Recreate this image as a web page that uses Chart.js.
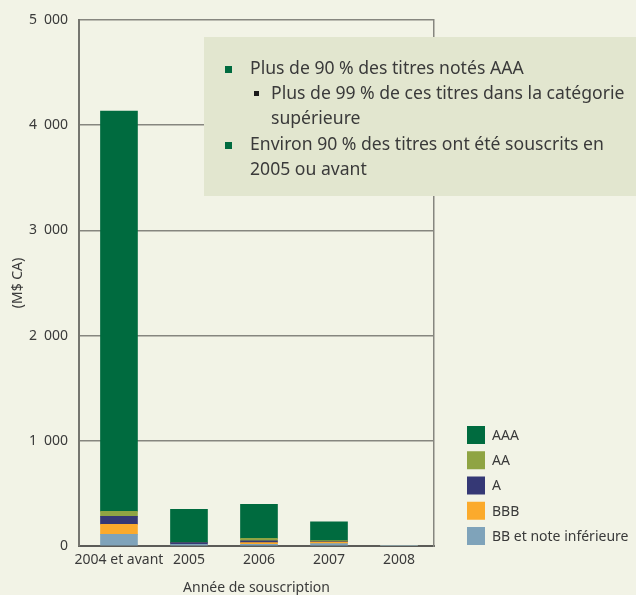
<!DOCTYPE html>
<html>
<head>
<meta charset="utf-8">
<script src="https://cdn.jsdelivr.net/npm/chart.js@4"></script>
<style>
  body { margin: 0; background: #f2f3e6; }
</style>
</head>
<body>
<canvas id="chart" width="636" height="595"></canvas>
<script>
// Années de souscription
const categories = ['2004 et avant', '2005', '2006', '2007', '2008'];

// Valeurs (M$ CA) par notation
const bbLow = [110, 16, 16, 22, 5];
const bbb = [95, 0, 16, 16, 0];
const ratingA = [76, 16, 16, 3, 0];
const ratingAA = [48, 0, 25, 10, 0];
const ratingAAA = [3806, 317, 323, 178, 0];

const yTicks = [0, 1000, 2000, 3000, 4000, 5000];

const noteLines = [
  { text: 'Plus de 90 % des titres notés AAA', bullet: 'main' },
  { text: 'Plus de 99 % de ces titres dans la catégorie', bullet: 'sub' },
  { text: 'supérieure', bullet: 'subCont' },
  { text: 'Environ 90 % des titres ont été souscrits en', bullet: 'main' },
  { text: '2005 ou avant', bullet: 'mainCont' }
];

const textColor = '#3a3a3a';
Chart.defaults.font.family = '"Noto Sans", sans-serif';
Chart.defaults.color = textColor;

function toPoints(values) {
  return values.map((v, i) => ({ x: i, y: v }));
}

function formatThousands(v) {
  // espace large entre les milliers, comme dans l'original
  return String(v).replace(/\B(?=(\d{3})+(?!\d))/g, '\u2002');
}

const datasets = [
  { label: 'BB et note inférieure', data: toPoints(bbLow), backgroundColor: '#7fa3ba' },
  { label: 'BBB', data: toPoints(bbb), backgroundColor: '#fbaa2c' },
  { label: 'A', data: toPoints(ratingA), backgroundColor: '#353875' },
  { label: 'AA', data: toPoints(ratingAA), backgroundColor: '#8fa443' },
  { label: 'AAA', data: toPoints(ratingAAA), backgroundColor: '#006b3f' }
];
datasets.forEach(ds => {
  ds.barThickness = 37;
  ds.borderWidth = 0;
  ds.yAxisID = 'y';
});

// fond, encadré de texte et légende
const decorPlugin = {
  id: 'decor',
  beforeDraw(chart) {
    const ctx = chart.ctx;
    ctx.save();
    ctx.fillStyle = '#f2f3e6';
    ctx.fillRect(0, 0, chart.width, chart.height);
    ctx.restore();
  },
  afterDraw(chart) {
    const ctx = chart.ctx;
    ctx.save();

    // encadré
    ctx.fillStyle = '#e2e6cf';
    ctx.fillRect(204, 37, 432, 159);

    const baselines = [74, 99, 124, 150, 175];
    ctx.font = '17.6px "Noto Sans", sans-serif';
    ctx.textBaseline = 'alphabetic';
    ctx.textAlign = 'left';
    noteLines.forEach((line, i) => {
      const y = baselines[i];
      let x = 250;
      if (line.bullet === 'main') {
        ctx.fillStyle = '#006b3f';
        ctx.fillRect(225, y - 8, 7, 7);
      } else if (line.bullet === 'sub') {
        ctx.fillStyle = '#1a1a1a';
        ctx.fillRect(254, y - 8, 5, 5);
        x = 271;
      } else if (line.bullet === 'subCont') {
        x = 271;
      }
      ctx.fillStyle = textColor;
      ctx.fillText(line.text, x, y);
    });

    // légende
    ctx.font = '14px "Noto Sans", sans-serif';
    ctx.textBaseline = 'middle';
    const items = chart.data.datasets.slice().reverse();
    items.forEach((ds, i) => {
      const cy = 435 + i * 25.25;
      ctx.fillStyle = ds.backgroundColor;
      ctx.fillRect(467, cy - 9, 18, 18);
      ctx.fillStyle = textColor;
      ctx.fillText(ds.label, 492, cy + 1);
    });

    ctx.restore();
  }
};

new Chart(document.getElementById('chart'), {
  type: 'bar',
  data: { datasets },
  options: {
    responsive: false,
    animation: false,
    layout: { padding: { top: 20, left: 0, right: 0, bottom: 0 } },
    plugins: {
      legend: { display: false },
      tooltip: { enabled: false }
    },
    scales: {
      x: {
        type: 'linear',
        stacked: true,
        offset: false,
        min: -0.571,
        max: 4.5,
        afterBuildTicks: scale => {
          scale.ticks = categories.map((c, i) => ({ value: i }));
        },
        afterFit: scale => { scale.height = 49; },
        grid: { display: false, drawTicks: false },
        border: { display: true, color: '#5b5b57', width: 2 },
        ticks: {
          autoSkip: false,
          maxRotation: 0,
          padding: 6,
          font: { size: 14 },
          color: textColor,
          callback: v => categories[v]
        },
        title: {
          display: true,
          text: 'Année de souscription',
          font: { size: 14, lineHeight: 1 },
          color: textColor,
          padding: { top: 0, bottom: 0 }
        }
      },
      y: {
        stacked: true,
        min: 0,
        max: 5000,
        afterBuildTicks: scale => {
          scale.ticks = yTicks.map(v => ({ value: v }));
        },
        afterFit: scale => { scale.width = 79; },
        grid: { color: '#86867f', lineWidth: 1.5, drawTicks: false },
        border: { display: true, color: '#75756f', width: 2 },
        ticks: {
          padding: 11,
          font: { size: 14 },
          color: textColor,
          callback: v => formatThousands(v)
        },
        title: {
          display: true,
          text: '(M$ CA)',
          font: { size: 14 },
          color: textColor,
          padding: { top: 10, bottom: 0 }
        }
      },
      y2: {
        position: 'right',
        display: true,
        min: 0,
        max: 5000,
        afterFit: scale => { scale.width = 202; },
        grid: { display: false, drawTicks: false },
        border: { display: true, color: '#86867f', width: 1.5 },
        ticks: { display: false }
      }
    }
  },
  plugins: [decorPlugin]
});
</script>
</body>
</html>
